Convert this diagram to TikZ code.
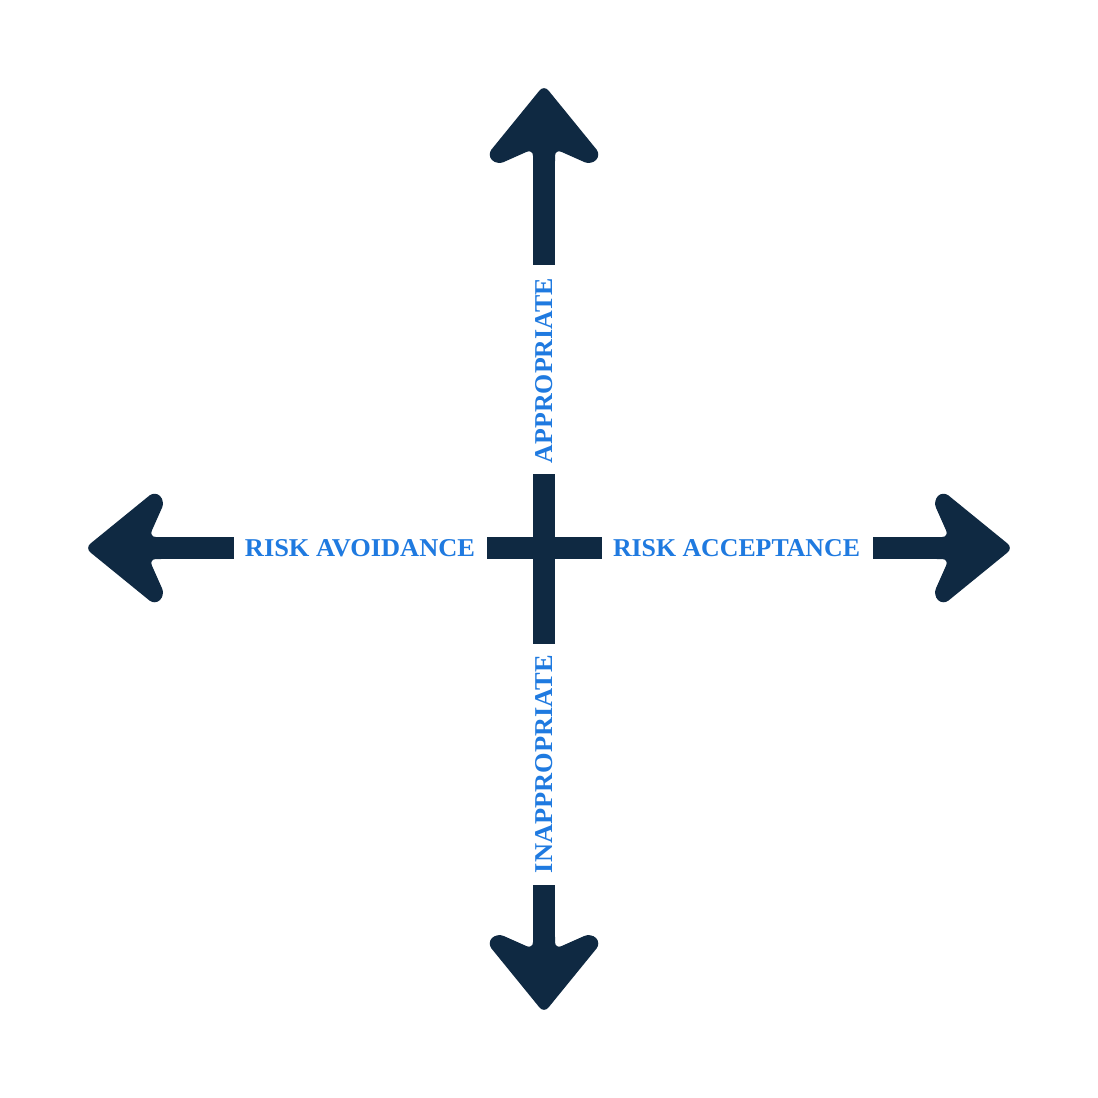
\documentclass[tikz,border=0pt]{standalone}
\usepackage{fontspec}
\setmainfont{Liberation Serif}
\usepackage{graphicx}
\definecolor{navy}{HTML}{0F2942}
\definecolor{lblue}{HTML}{1F7AE0}
\begin{document}
\begin{tikzpicture}[x=1pt,y=-1pt,
  shaft/.style={fill=navy},
  lbl/.style={text=lblue, inner sep=0pt, font=\bfseries},
  arrowhead/.pic={\fill[navy, rounded corners=7pt] (0,-3) -- (57,67) -- (47,77) -- (11,61) -- (11,80) -- (-11,80) -- (-11,61) -- (-47,77) -- (-57,67) -- cycle;}
]
\fill[white] (0,0) rectangle (1098,1098);
\useasboundingbox (0,0) rectangle (1098,1098);

% named coordinates
\coordinate (c) at (544,548);
\coordinate (tipT) at (544,88);
\coordinate (tipB) at (544,1010);
\coordinate (tipL) at (88,548);
\coordinate (tipR) at (1010,548);

% shafts
\fill[shaft] (533,150) rectangle (555,265);
\fill[shaft] (533,474) rectangle (555,644);
\fill[shaft] (533,885) rectangle (555,948);
\fill[shaft] (150,537) rectangle (234,559);
\fill[shaft] (487,537) rectangle (602,559);
\fill[shaft] (873,537) rectangle (948,559);

% heads
\pic at (tipT) {arrowhead};
\pic[rotate=180] at (tipB) {arrowhead};
\pic[rotate=90] at (tipL) {arrowhead};
\pic[rotate=-90] at (tipR) {arrowhead};

% labels
\node[lbl] (avoid) at (360,548) {\resizebox{230pt}{17pt}{RISK AVOIDANCE}};
\node[lbl] (accept) at (736.5,548) {\resizebox{247pt}{17pt}{RISK ACCEPTANCE}};
\node[lbl, rotate=90] (appr) at (544,370.5) {\resizebox{185pt}{17pt}{APPROPRIATE}};
\node[lbl, rotate=90] (inappr) at (544,764) {\resizebox{218pt}{17pt}{INAPPROPRIATE}};
\end{tikzpicture}
\end{document}
